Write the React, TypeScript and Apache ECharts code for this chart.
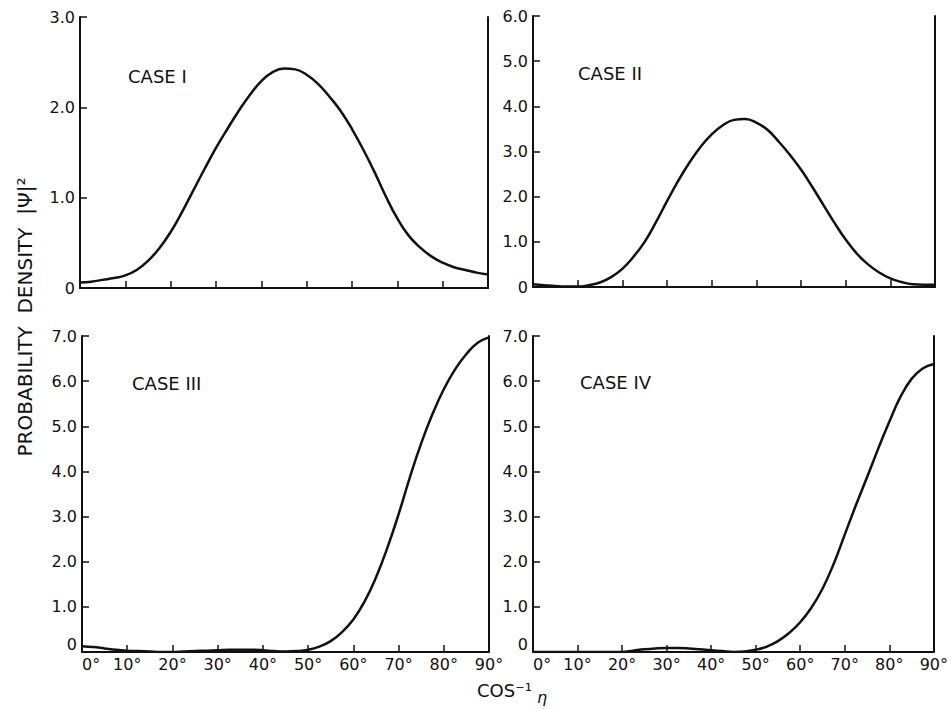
import React, { useEffect, useRef } from "react";
import * as echarts from "echarts";

// Angle cos^-1(eta) in degrees (2.5 degree steps)
const angles = [
  0, 2.5, 5, 7.5, 10, 12.5, 15, 17.5, 20, 22.5, 25, 27.5, 30, 32.5, 35, 37.5, 40, 42.5, 45,
  47.5, 50, 52.5, 55, 57.5, 60, 62.5, 65, 67.5, 70, 72.5, 75, 77.5, 80, 82.5, 85, 87.5, 90,
];

// Probability density |Psi|^2
const caseI = [
  0.06, 0.07, 0.09, 0.11, 0.14, 0.2, 0.3, 0.44, 0.62, 0.84, 1.08, 1.32, 1.55, 1.76, 1.96, 2.14, 2.29, 2.39, 2.43,
  2.42, 2.36, 2.26, 2.12, 1.96, 1.76, 1.53, 1.28, 1.01, 0.77, 0.58, 0.45, 0.35, 0.28, 0.23, 0.2, 0.17, 0.15,
];
const caseII = [
  0.06, 0.04, 0.02, 0.01, 0.01, 0.04, 0.1, 0.22, 0.4, 0.67, 1.0, 1.43, 1.9, 2.35, 2.75, 3.1, 3.38, 3.58, 3.7,
  3.72, 3.64, 3.48, 3.22, 2.93, 2.6, 2.22, 1.82, 1.42, 1.05, 0.74, 0.5, 0.32, 0.19, 0.11, 0.06, 0.05, 0.05,
];
const caseIII = [
  0.13, 0.11, 0.08, 0.05, 0.03, 0.02, 0.01, 0.0, 0.0, 0.01, 0.02, 0.03, 0.04, 0.05, 0.05, 0.05, 0.04, 0.02, 0.01,
  0.02, 0.05, 0.12, 0.24, 0.44, 0.72, 1.12, 1.65, 2.3, 3.05, 3.87, 4.62, 5.27, 5.82, 6.26, 6.6, 6.85, 6.97,
];
const caseIV = [
  0, 0, 0, 0, 0, 0, 0, 0, 0, 0.03, 0.06, 0.08, 0.09, 0.09, 0.08, 0.06, 0.04, 0.02, 0.0,
  0.01, 0.05, 0.12, 0.24, 0.42, 0.66, 0.98, 1.4, 1.95, 2.6, 3.25, 3.87, 4.5, 5.1, 5.65, 6.05, 6.28, 6.38,
];

const caseNames = ["CASE I", "CASE II", "CASE III", "CASE IV"];
const yMaxes = [3, 6, 7, 7];
const xTickLabels = ["0°", "10°", "20°", "30°", "40°", "50°", "60°", "70°", "80°", "90°"];
const yAxisTitle = "PROBABILITY  DENSITY  |Ψ|²";
const xAxisTitle = "COS⁻¹";
const xAxisSub = "η";

const FONT = "'DejaVu Sans', 'Liberation Sans', sans-serif";
const INK = "#111";

export default function App() {
  const ref = useRef<HTMLDivElement>(null);

  useEffect(() => {
    if (!ref.current) return;
    const chart = echarts.init(ref.current, null, { renderer: "svg" });

    const grids = [
      { left: 80, top: 17, width: 408, height: 271 },
      { left: 533, top: 16, width: 402, height: 271 },
      { left: 82, top: 336, width: 407, height: 316 },
      { left: 533, top: 336, width: 403, height: 316 },
    ];
    const datasets = [caseI, caseII, caseIII, caseIV];
    const showX = [false, false, true, true];
    const labelPos = [
      [128, 76],
      [578, 73],
      [132, 383],
      [580, 382],
    ];

    const xAxis: any[] = [];
    const yAxis: any[] = [];
    const series: any[] = [];
    grids.forEach((g, i) => {
      xAxis.push({
        type: "value",
        gridIndex: i,
        min: 0,
        max: 90,
        interval: 10,
        axisLine: { show: true, lineStyle: { color: INK, width: 2 } },
        axisTick: { show: true, inside: true, length: 7, lineStyle: { color: INK, width: 1.5 } },
        axisLabel: {
          show: showX[i],
          margin: 4,
          color: INK,
          fontFamily: FONT,
          fontSize: 16,
          alignMinLabel: "left",
          formatter: (v: number) => xTickLabels[Math.round(v / 10)] ?? "",
        },
        splitLine: { show: false },
      });
      yAxis.push({
        type: "value",
        gridIndex: i,
        min: 0,
        max: yMaxes[i],
        interval: 1,
        axisLine: { show: true, lineStyle: { color: INK, width: 2 } },
        axisTick: { show: true, inside: true, length: 7, lineStyle: { color: INK, width: 1.5 } },
        axisLabel: {
          margin: 5,
          color: INK,
          fontFamily: FONT,
          fontSize: 16,
          verticalAlignMinLabel: i >= 2 ? "bottom" : undefined,
          formatter: (v: number) => (v === 0 ? "0" : v.toFixed(1)),
        },
        splitLine: { show: false },
      });
      yAxis.push({
        type: "value",
        gridIndex: i,
        position: "right",
        min: 0,
        max: yMaxes[i],
        interval: 1,
        axisLine: { show: true, lineStyle: { color: INK, width: 2 } },
        axisTick: { show: false },
        axisLabel: { show: false },
        splitLine: { show: false },
      });
      series.push({
        type: "line",
        name: caseNames[i],
        xAxisIndex: i,
        yAxisIndex: i * 2,
        data: angles.map((a, k) => [a, datasets[i][k]]),
        smooth: 0.45,
        showSymbol: false,
        lineStyle: { color: INK, width: 2.5 },
        z: 3,
      });
    });

    const graphic: any[] = caseNames.map((name, i) => ({
      type: "text",
      x: labelPos[i][0],
      y: labelPos[i][1],
      style: {
        text: name,
        fill: INK,
        font: `18px ${FONT}`,
        textVerticalAlign: "middle",
      },
    }));
    graphic.push({
      type: "text",
      x: 25,
      y: 317,
      rotation: Math.PI / 2,
      style: {
        text: yAxisTitle,
        fill: INK,
        font: `20px ${FONT}`,
        textAlign: "center",
        textVerticalAlign: "middle",
      },
    });
    graphic.push({
      type: "text",
      x: 477,
      y: 690,
      style: {
        text: xAxisTitle,
        fill: INK,
        font: `18px ${FONT}`,
        textVerticalAlign: "middle",
      },
    });
    graphic.push({
      type: "text",
      x: 537,
      y: 697,
      style: {
        text: xAxisSub,
        fill: INK,
        font: `italic 16px ${FONT}`,
        textVerticalAlign: "middle",
      },
    });

    chart.setOption({
      animation: false,
      backgroundColor: "#fff",
      grid: grids.map((g) => ({ ...g, containLabel: false })),
      xAxis,
      yAxis,
      series,
      graphic,
    });

    return () => chart.dispose();
  }, []);

  return (
    <div
      ref={ref}
      style={{ position: "fixed", left: 0, top: 0, width: 951, height: 709, background: "#fff" }}
    />
  );
}
